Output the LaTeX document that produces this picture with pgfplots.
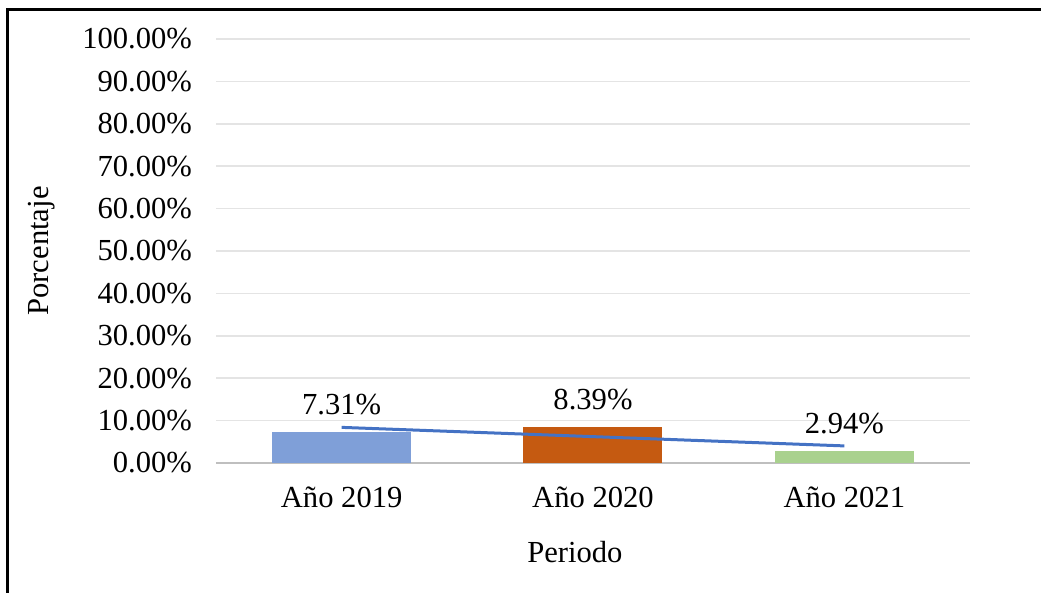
\documentclass[border=0pt]{standalone}
\usepackage{fontspec}
\setmainfont{Liberation Serif}
\usepackage{pgfplots}
\pgfplotsset{compat=1.18}
\definecolor{bblue}{RGB}{127,159,216}
\definecolor{borange}{RGB}{197,90,17}
\definecolor{bgreen}{RGB}{169,209,142}
\definecolor{trend}{RGB}{68,114,196}
\definecolor{gridc}{RGB}{228,228,228}
\definecolor{axisc}{RGB}{191,191,191}
\newcommand{\fs}{\fontsize{15.3}{18}\selectfont}
\begin{document}
\begin{tikzpicture}
\useasboundingbox (0,0) rectangle (520.5pt,296.5pt);
\draw[line width=1.5pt] (3.75pt,-20pt) -- (3.75pt,291.75pt) -- (540pt,291.75pt);
\begin{axis}[
  at={(108pt,65pt)}, anchor=south west,
  scale only axis, width=377pt, height=212pt,
  xmin=-0.5, xmax=2.5, ymin=0, ymax=100,
  xtick={0,1,2}, xticklabels={Año 2019,Año 2020,Año 2021},
  ytick={0,10,...,100},
  yticklabel={\pgfmathprintnumber[fixed,precision=2,fixed zerofill]{\tick}\%},
  /pgf/number format/assume math mode=true,
  major tick length=0pt,
  ymajorgrids, grid style={draw=gridc, line width=0.8pt},
  axis lines*=left,
  y axis line style={draw=none},
  x axis line style={draw=axisc, line width=1.3pt, -},
  tick label style={font=\fs},
  yticklabel style={xshift=-8.5pt},
  xticklabel style={yshift=-8.5pt},
  xlabel={Periodo}, ylabel={Porcentaje},
  label style={font=\fs},
  xlabel style={at={(axis description cs:0.476,-0.21)}, anchor=center},
  ylabel style={at={(axis description cs:-0.231,0.5)}, anchor=center},
  nodes near coords={\pgfmathprintnumber[fixed,precision=2,fixed zerofill]{\pgfplotspointmeta}\%},
  every node near coord/.style={font=\fs, text=black, yshift=5pt},
  clip=false,
]
\addplot[ybar, bar width=69.5pt, bar shift=0pt, fill=bblue, draw=none] coordinates {(0,7.31)};
\addplot[ybar, bar width=69.5pt, bar shift=0pt, fill=borange, draw=none] coordinates {(1,8.39)};
\addplot[ybar, bar width=69.5pt, bar shift=0pt, fill=bgreen, draw=none] coordinates {(2,2.94)};
\addplot[trend, line width=1.5pt, no marks, nodes near coords=\relax] coordinates {(0,8.40) (2,4.03)};
\end{axis}
\end{tikzpicture}
\end{document}
